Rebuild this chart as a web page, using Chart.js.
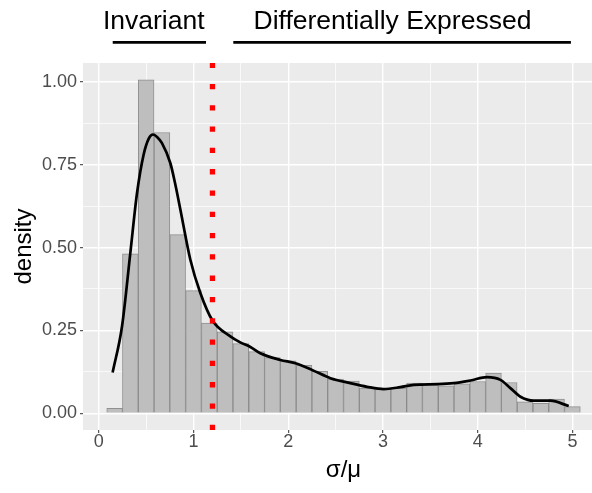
<!DOCTYPE html>
<html>
<head>
<meta charset="utf-8">
<script src="https://cdn.jsdelivr.net/npm/chart.js@4.4.1/dist/chart.umd.min.js"></script>
<style>
  html, body { margin: 0; padding: 0; background: #fff; overflow: hidden; }
  #wrap { width: 604px; height: 493px; }
</style>
</head>
<body>
<div id="wrap"><canvas id="cvChart"></canvas></div>
<script>
// histogram bins (width 1/6), density per bin
const binCenters = [0.167, 0.333, 0.5, 0.667, 0.833, 1.0, 1.167, 1.333, 1.5, 1.667,
                    1.833, 2.0, 2.167, 2.333, 2.5, 2.667, 2.833, 3.0, 3.167, 3.333,
                    3.5, 3.667, 3.833, 4.0, 4.167, 4.333, 4.5, 4.667, 4.833, 5.0];
const binDensity = [0.015, 0.481, 1.006, 0.847, 0.539, 0.370, 0.272, 0.246, 0.210, 0.186,
                    0.168, 0.158, 0.145, 0.127, 0.103, 0.097, 0.076, 0.073, 0.076, 0.091,
                    0.087, 0.083, 0.089, 0.096, 0.121, 0.093, 0.035, 0.030, 0.043, 0.020];

// kernel density curve
const curveX = [0.146, 0.245, 0.333, 0.403, 0.473, 0.526, 0.572, 0.62, 0.667, 0.755,
                0.803, 0.861, 0.966, 1.072, 1.202, 1.389, 1.494, 1.6, 1.705, 1.917,
                2.075, 2.251, 2.445, 2.656, 2.832, 3.008, 3.184, 3.325, 3.578, 3.747,
                3.923, 4.099, 4.24, 4.345, 4.451, 4.591, 4.768, 4.961];
const curveY = [0.123, 0.262, 0.484, 0.663, 0.780, 0.828, 0.841, 0.832, 0.815, 0.755,
                0.697, 0.615, 0.464, 0.363, 0.279, 0.232, 0.214, 0.200, 0.181, 0.161,
                0.151, 0.131, 0.106, 0.091, 0.080, 0.073, 0.079, 0.086, 0.088, 0.091,
                0.099, 0.109, 0.101, 0.076, 0.050, 0.038, 0.038, 0.022];

const cutoff = 1.2;

const xTicks = [0, 0.5, 1, 1.5, 2, 2.5, 3, 3.5, 4, 4.5, 5];
const yTicks = [0, 0.125, 0.25, 0.375, 0.5, 0.625, 0.75, 0.875, 1.0];
const xRange = [-0.1667, 5.3333];
const yRange = [-0.0503, 1.0566];

// group labels above the panel
const groupLabels = ['Invariant', 'Differentially Expressed'];
const groupLabelX = [0.58, 3.10];
const groupSegFrom = [0.147, 1.42];
const groupSegTo = [1.132, 4.984];
const groupTextY = 1.158;
const groupSegY = 1.119;

Chart.defaults.font.family = "'Liberation Sans', Arial, sans-serif";

const isMajor = (v, step) => Math.abs(v / step - Math.round(v / step)) < 1e-6;

const panelBg = {
  id: 'panelBg',
  beforeDraw(chart) {
    const { ctx, chartArea: a } = chart;
    ctx.save();
    ctx.fillStyle = '#EBEBEB';
    ctx.fillRect(a.left, a.top, a.right - a.left, a.bottom - a.top);
    ctx.restore();
  }
};

const groupNotes = {
  id: 'groupNotes',
  afterDraw(chart) {
    const { ctx } = chart;
    const xs = chart.scales.x, ys = chart.scales.y;
    ctx.save();
    ctx.fillStyle = '#000';
    ctx.strokeStyle = '#000';
    ctx.lineWidth = 2.7;
    ctx.font = "26.5px 'Liberation Sans', Arial, sans-serif";
    ctx.textAlign = 'center';
    ctx.textBaseline = 'alphabetic';
    groupLabels.forEach((lab, i) => {
      ctx.fillText(lab, xs.getPixelForValue(groupLabelX[i]), ys.getPixelForValue(groupTextY));
      const y = ys.getPixelForValue(groupSegY);
      ctx.beginPath();
      ctx.moveTo(xs.getPixelForValue(groupSegFrom[i]), y);
      ctx.lineTo(xs.getPixelForValue(groupSegTo[i]), y);
      ctx.stroke();
    });
    ctx.restore();
  }
};

const ctx = document.getElementById('cvChart').getContext('2d');

const cvChart = new Chart(ctx, {
  type: 'bar',
  data: {
    datasets: [
      {
        type: 'line',
        label: 'cutoff',
        data: [{ x: cutoff, y: yRange[0] }, { x: cutoff, y: yRange[1] }],
        borderColor: '#FF0000',
        borderWidth: 5.3,
        borderDash: [5.3, 16],
        borderCapStyle: 'butt',
        pointRadius: 0,
        order: 1
      },
      {
        type: 'line',
        label: 'density curve',
        data: curveX.map((x, i) => ({ x: x, y: curveY[i] })),
        borderColor: '#000000',
        borderWidth: 2.7,
        pointRadius: 0,
        cubicInterpolationMode: 'monotone',
        order: 2
      },
      {
        type: 'bar',
        label: 'density',
        data: binCenters.map((x, i) => ({ x: x, y: binDensity[i] })),
        backgroundColor: 'rgba(190,190,190,1)',
        borderColor: 'rgba(128,128,128,0.85)',
        borderWidth: 1,
        barPercentage: 1,
        categoryPercentage: 1,
        order: 3
      }
    ]
  },
  options: {
    responsive: true,
    maintainAspectRatio: false,
    animation: false,
    layout: { padding: { top: 63, right: 0, bottom: 0, left: 0 } },
    plugins: {
      legend: { display: false },
      tooltip: { enabled: false }
    },
    scales: {
      x: {
        type: 'linear',
        offset: false,
        min: xRange[0],
        max: xRange[1],
        afterBuildTicks: (axis) => { axis.ticks = xTicks.map(v => ({ value: v })); },
        afterFit: (axis) => { axis.height = 63; },
        border: { display: false },
        grid: {
          offset: false,
          color: '#FFFFFF',
          lineWidth: (c) => (c.tick && isMajor(c.tick.value, 1) ? 1.4 : 0.7),
          tickColor: (c) => (c.tick && isMajor(c.tick.value, 1) ? '#333333' : 'rgba(0,0,0,0)'),
          tickLength: 3,
          tickWidth: 1
        },
        ticks: {
          autoSkip: false,
          maxRotation: 0,
          padding: -2,
          color: '#4D4D4D',
          font: { size: 18 },
          callback: (v) => (isMajor(v, 1) ? String(v) : '')
        },
        title: {
          display: true,
          text: 'σ/μ',
          color: '#000000',
          font: { size: 24 },
          padding: { top: 0, bottom: 8 }
        }
      },
      y: {
        min: yRange[0],
        max: yRange[1],
        afterBuildTicks: (axis) => { axis.ticks = yTicks.map(v => ({ value: v })); },
        afterFit: (axis) => { axis.width = 83; },
        border: { display: false },
        grid: {
          offset: false,
          color: '#FFFFFF',
          lineWidth: (c) => (c.tick && isMajor(c.tick.value, 0.25) ? 1.4 : 0.7),
          tickColor: (c) => (c.tick && isMajor(c.tick.value, 0.25) ? '#333333' : 'rgba(0,0,0,0)'),
          tickLength: 3,
          tickWidth: 1
        },
        ticks: {
          autoSkip: false,
          padding: 3,
          color: '#4D4D4D',
          font: { size: 18 },
          callback: (v) => (isMajor(v, 0.25) ? v.toFixed(2) : '')
        },
        title: {
          display: true,
          text: 'density',
          color: '#000000',
          font: { size: 24 },
          padding: { top: 10, bottom: 4 }
        }
      }
    }
  },
  plugins: [panelBg, groupNotes]
});
</script>
</body>
</html>
